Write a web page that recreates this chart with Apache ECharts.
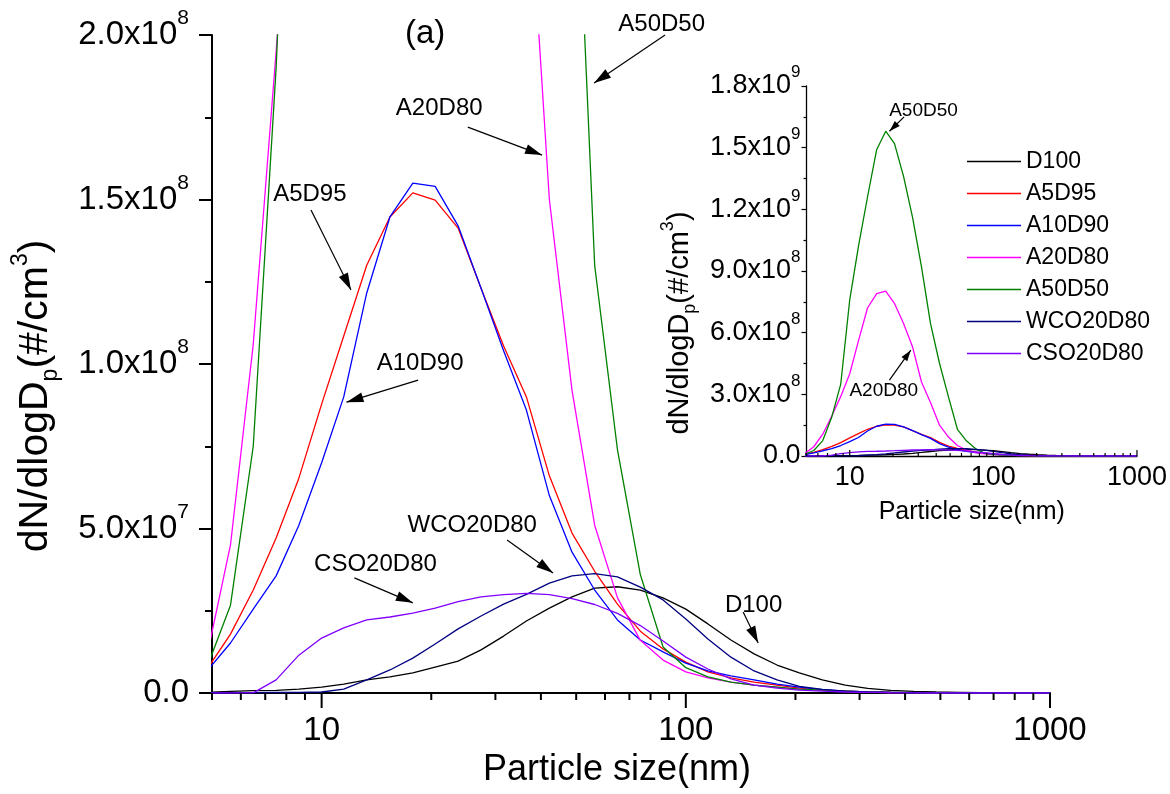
<!DOCTYPE html>
<html>
<head>
<meta charset="utf-8">
<script src="https://cdn.jsdelivr.net/npm/echarts@6/dist/echarts.min.js"></script>
<style>
html, body { margin: 0; padding: 0; background: #fff; }
#chart { width: 1170px; height: 794px; }
</style>
</head>
<body>
<div id="chart"></div>
<script>
// particle size bins (nm)
const sizes = [4.87, 5.62, 6.49, 7.50, 8.66, 10.0, 11.5, 13.3, 15.4, 17.8, 20.5, 23.7, 27.4, 31.6, 36.5, 42.2, 48.7, 56.2, 64.9, 75.0, 86.6, 100, 115, 133, 154, 178, 205, 237, 274, 316, 365, 422, 487, 562, 649, 750, 866, 1000];

// dN/dlogDp in units of 1e7 #/cm3
const D100 = [0.02, 0.05, 0.07, 0.08, 0.12, 0.18, 0.27, 0.40, 0.49, 0.61, 0.79, 0.97, 1.31, 1.73, 2.19, 2.58, 2.92, 3.19, 3.23, 3.13, 2.89, 2.55, 2.10, 1.61, 1.19, 0.85, 0.61, 0.40, 0.24, 0.14, 0.08, 0.05, 0.03, 0.02, 0.01, 0.005, 0, 0];
const A5D95 = [0.76, 1.79, 3.13, 4.71, 6.53, 8.78, 10.85, 13.0, 14.47, 15.2, 14.98, 14.13, 12.3, 10.55, 9.0, 6.6, 4.86, 3.7, 2.7, 1.88, 1.34, 0.94, 0.64, 0.46, 0.33, 0.24, 0.15, 0.09, 0.06, 0.03, 0.015, 0.01, 0.005, 0, 0, 0, 0, 0];
const A10D90 = [0.70, 1.52, 2.55, 3.56, 5.10, 7.00, 9.00, 12.16, 14.47, 15.5, 15.4, 14.2, 12.3, 10.4, 8.6, 6.0, 4.28, 3.13, 2.22, 1.61, 1.25, 0.91, 0.67, 0.52, 0.40, 0.27, 0.18, 0.10, 0.06, 0.03, 0.015, 0.008, 0.004, 0, 0, 0, 0, 0];
const A20D80 = [1.25, 4.5, 10.6, 19.5, 29, 40, 56, 72, 79, 80.2, 74.2, 64.5, 53, 36, 26, 15.0, 9.2, 5.1, 2.9, 1.6, 1.0, 0.64, 0.46, 0.33, 0.24, 0.18, 0.12, 0.08, 0.05, 0.03, 0.015, 0.01, 0.005, 0, 0, 0, 0, 0];
const A50D50 = [0.85, 2.67, 7.5, 19.0, 35, 76, 102, 126, 149, 158, 152, 136, 116, 92, 64.5, 45, 28.8, 13, 7.4, 3.6, 1.4, 0.77, 0.49, 0.33, 0.24, 0.18, 0.12, 0.09, 0.06, 0.03, 0.02, 0.01, 0.005, 0, 0, 0, 0, 0];
const WCO20D80 = [0, 0.005, 0.01, 0.015, 0.02, 0.03, 0.12, 0.40, 0.70, 1.06, 1.49, 1.95, 2.34, 2.70, 3.00, 3.34, 3.56, 3.63, 3.53, 3.22, 2.83, 2.25, 1.64, 1.09, 0.67, 0.40, 0.20, 0.11, 0.06, 0.03, 0.02, 0.01, 0.005, 0, 0, 0, 0, 0];
const CSO20D80 = [0, 0, 0.005, 0.40, 1.15, 1.67, 1.98, 2.22, 2.31, 2.43, 2.58, 2.78, 2.92, 2.99, 3.03, 2.99, 2.87, 2.69, 2.42, 2.05, 1.58, 1.09, 0.73, 0.43, 0.24, 0.15, 0.09, 0.06, 0.03, 0.02, 0.01, 0.005, 0, 0, 0, 0, 0, 0];

const seriesNames = ['D100', 'A5D95', 'A10D90', 'A20D80', 'A50D50', 'WCO20D80', 'CSO20D80'];
const seriesValues = [D100, A5D95, A10D90, A20D80, A50D50, WCO20D80, CSO20D80];
const seriesColors = ['#000000', '#ff0000', '#0000ff', '#ff00ff', '#008000', '#000080', '#8000ff'];

// log axis ticks
const xMajorTicks = [10, 100, 1000];
const xMinorTicks = [5, 6, 7, 8, 9, 20, 30, 40, 50, 60, 70, 80, 90, 200, 300, 400, 500, 600, 700, 800, 900];

// arrow labels, in data units: text anchor, arrow tail, arrow head
const mainNotes = [
    { text: 'A50D50', at: [86.1, 2.03e8], from: [87.7, 2.0e8], to: [56.0, 1.854e8] },
    { text: 'A20D80', at: [21.1, 1.775e8], from: [25.2, 1.72e8], to: [40.3, 1.635e8] },
    { text: 'A5D95', at: [9.31, 1.514e8], from: [9.35, 1.468e8], to: [12.04, 1.225e8] },
    { text: 'A10D90', at: [18.7, 1.0e8], from: [18.4, 0.951e8], to: [11.7, 0.884e8] },
    { text: 'WCO20D80', at: [26.0, 0.508e8], from: [32.3, 0.465e8], to: [43.2, 0.365e8] },
    { text: 'CSO20D80', at: [14.1, 0.389e8], from: [12.3, 0.35e8], to: [17.8, 0.274e8] },
    { text: 'D100', at: [154, 0.264e8], from: [143.7, 0.246e8], to: [158, 0.152e8] }
];
const insetNotes = [
    { text: 'A50D50', at: [32.9, 16.77e8], from: [23.9, 16.5e8], to: [18.9, 15.8e8] },
    { text: 'A20D80', at: [17.4, 3.14e8], from: [18.9, 3.69e8], to: [26.6, 5.15e8] }
];

const FONT = '"Liberation Sans", Arial, Helvetica, sans-serif';

const chart = echarts.init(document.getElementById('chart'));

function sciLabel(v) {
    if (v === 0) return '{b|0.0}';
    const e = Math.floor(Math.log10(v) + 1e-9);
    const m = v / Math.pow(10, e);
    return '{b|' + m.toFixed(1) + 'x10}{s|' + e + '}';
}

function logLabel(v) {
    const hit = xMajorTicks.find(t => Math.abs(t - v) / t < 1e-6);
    return hit ? String(hit) : '';
}

function titleRich(big, small, lh) {
    return {
        a: { fontSize: big, lineHeight: lh, verticalAlign: 'middle', fontFamily: FONT, color: '#000' },
        p: { fontSize: small, lineHeight: small, verticalAlign: 'bottom', fontFamily: FONT, color: '#000' },
        s: { fontSize: small, lineHeight: small, verticalAlign: 'top', fontFamily: FONT, color: '#000' }
    };
}

function tickSeries(gi, values, len, dir, width) {
    return {
        type: 'custom',
        xAxisIndex: gi,
        yAxisIndex: gi,
        silent: true,
        clip: false,
        z: 5,
        data: values.map(v => [v, 0]),
        renderItem: (params, api) => {
            const p = api.coord([api.value(0), 0]);
            return {
                type: 'line',
                shape: { x1: p[0], y1: p[1], x2: p[0], y2: p[1] + dir * len },
                style: { stroke: '#000', lineWidth: width }
            };
        }
    };
}

function noteSeries(gi, notes, fontSize, arrowSize) {
    return {
        type: 'scatter',
        xAxisIndex: gi,
        yAxisIndex: gi,
        clip: false,
        silent: true,
        z: 6,
        symbolSize: 1,
        itemStyle: { color: 'transparent' },
        data: notes.map(n => ({ name: n.text, value: n.at })),
        label: {
            show: true,
            position: [0, 0],
            align: 'center',
            verticalAlign: 'middle',
            formatter: '{b}',
            fontSize: fontSize,
            fontFamily: FONT,
            color: '#000',
            opacity: 1,
            textBorderWidth: 0
        },
        markLine: {
            silent: true,
            symbol: ['none', 'triangle'],
            symbolSize: arrowSize,
            symbolOffset: [[0, 0], [0, arrowSize[1] / 2]],
            label: { show: false },
            lineStyle: { color: '#000', width: 1.2, type: 'solid' },
            data: notes.map(n => [{ coord: n.from }, { coord: n.to }])
        }
    };
}

const series = [];
[0, 1].forEach(gi => {
    seriesNames.forEach((name, i) => {
        series.push({
            name: name,
            type: 'line',
            xAxisIndex: gi,
            yAxisIndex: gi,
            data: sizes.map((s, k) => [s, seriesValues[i][k] * 1e7]),
            symbol: 'none',
            silent: true,
            lineStyle: { color: seriesColors[i], width: 1.3 },
            itemStyle: { color: seriesColors[i] },
            z: 2
        });
    });
});
series.push(tickSeries(0, xMinorTicks, 7, 1, 2));
series.push(tickSeries(0, xMajorTicks, 15, 1, 2));
series.push(tickSeries(1, xMinorTicks, 3, -1, 1.2));
series.push(tickSeries(1, xMajorTicks, 6, -1, 1.2));
series.push(noteSeries(0, mainNotes, 24, [10, 17]));
series.push(noteSeries(1, insetNotes, 19, [7, 11]));

const option = {
    animation: false,
    backgroundColor: '#fff',
    textStyle: { fontFamily: FONT, color: '#000' },
    title: {
        text: '(a)',
        left: 400,
        top: 12,
        textStyle: { fontSize: 33, fontWeight: 'normal', fontFamily: FONT, color: '#000' }
    },
    legend: {
        data: seriesNames,
        orient: 'vertical',
        left: 962,
        top: 145,
        icon: 'rect',
        itemWidth: 54,
        itemHeight: 1.5,
        itemGap: 9,
        selectedMode: false,
        textStyle: { fontSize: 23, fontFamily: FONT, color: '#000' }
    },
    grid: [
        { left: 212, top: 35, width: 838, height: 658 },
        { left: 806.5, top: 86, width: 333.5, height: 370 }
    ],
    xAxis: [
        {
            type: 'log',
            logBase: 10,
            gridIndex: 0,
            min: 5,
            max: 1000,
            axisLine: { lineStyle: { color: '#000', width: 2 } },
            axisTick: { show: false },
            splitLine: { show: false },
            axisLabel: { margin: 21, fontSize: 33, fontFamily: FONT, color: '#000', formatter: logLabel },
            name: 'Particle size(nm)',
            nameLocation: 'middle',
            nameGap: 57,
            nameTextStyle: { fontSize: 36, fontFamily: FONT, color: '#000', padding: [0, 28, 0, 0] }
        },
        {
            type: 'log',
            logBase: 10,
            gridIndex: 1,
            min: 5,
            max: 1000,
            axisLine: { lineStyle: { color: '#000', width: 1.3 } },
            axisTick: { show: false },
            splitLine: { show: false },
            axisLabel: { margin: 8, fontSize: 27, fontFamily: FONT, color: '#000', formatter: logLabel },
            name: 'Particle size(nm)',
            nameLocation: 'middle',
            nameGap: 44,
            nameTextStyle: { fontSize: 25, fontFamily: FONT, color: '#000' }
        }
    ],
    yAxis: [
        {
            type: 'value',
            gridIndex: 0,
            min: 0,
            max: 2e8,
            interval: 5e7,
            axisLine: { show: true, lineStyle: { color: '#000', width: 2 } },
            axisTick: { show: true, length: 13, lineStyle: { color: '#000', width: 2 } },
            minorTick: { show: true, splitNumber: 2, length: 7, lineStyle: { color: '#000', width: 2 } },
            splitLine: { show: false },
            axisLabel: {
                margin: 23,
                formatter: sciLabel,
                rich: {
                    b: { fontSize: 33, lineHeight: 54, verticalAlign: 'middle', fontFamily: FONT, color: '#000' },
                    s: { fontSize: 21, lineHeight: 21, verticalAlign: 'top', fontFamily: FONT, color: '#000' }
                }
            },
            name: '{a|dN/dlogD}{p|p}{a|(#/cm}{s|3}{a|)}',
            nameLocation: 'middle',
            nameGap: 150,
            nameTextStyle: { rich: titleRich(41, 23, 53), padding: [0, 64, 0, 0] }
        },
        {
            type: 'value',
            gridIndex: 1,
            min: 0,
            max: 1.8e9,
            interval: 3e8,
            axisLine: { show: true, lineStyle: { color: '#000', width: 1.3 } },
            axisTick: { show: true, length: 5, lineStyle: { color: '#000', width: 1.2 } },
            minorTick: { show: true, splitNumber: 2, length: 3, lineStyle: { color: '#000', width: 1.2 } },
            splitLine: { show: false },
            axisLabel: {
                margin: 6,
                formatter: sciLabel,
                rich: {
                    b: { fontSize: 27, lineHeight: 44, verticalAlign: 'middle', fontFamily: FONT, color: '#000' },
                    s: { fontSize: 17, lineHeight: 17, verticalAlign: 'top', fontFamily: FONT, color: '#000' }
                }
            },
            name: '{a|dN/dlogD}{p|p}{a|(#/cm}{s|3}{a|)}',
            nameLocation: 'middle',
            nameGap: 107,
            nameTextStyle: { rich: titleRich(29, 18, 40), padding: [0, 104, 0, 0] }
        }
    ],
    series: series
};

chart.setOption(option);
</script>
</body>
</html>
